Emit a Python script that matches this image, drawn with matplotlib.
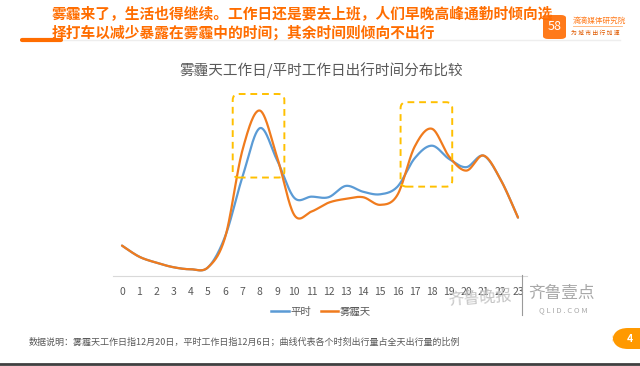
import matplotlib
matplotlib.use("Agg")
import matplotlib.pyplot as plt
import numpy as np
from matplotlib.patches import FancyBboxPatch
from matplotlib.lines import Line2D

plt.rcParams["font.family"] = ["Noto Sans CJK SC", "DejaVu Sans"]

# ── data: share of daily trips per hour (%) ───────────────────────────────────
hours = list(range(24))
normal = [1.67, 1.06, 0.73, 0.48, 0.37, 0.48, 2.20, 5.46, 8.12, 6.38, 4.30, 4.36,
          4.33, 4.95, 4.63, 4.49, 4.91, 6.47, 7.16, 6.43, 5.98, 6.61, 5.28, 3.21]
haze = [1.67, 1.06, 0.73, 0.48, 0.37, 0.48, 2.16, 6.93, 9.09, 6.56, 3.36, 3.54,
        4.03, 4.24, 4.33, 3.91, 4.46, 7.11, 8.09, 6.56, 5.79, 6.62, 5.28, 3.21]
series_names = ["平时", "雾霾天"]

headline = ["雾霾来了，生活也得继续。工作日还是要去上班，人们早晚高峰通勤时倾向选",
            "择打车以减少暴露在雾霾中的时间；其余时间则倾向不出行"]
chart_title = "雾霾天工作日/平时工作日出行时间分布比较"
footnote = "数据说明：雾霾天工作日指12月20日，平时工作日指12月6日；曲线代表各个时刻出行量占全天出行量的比例"

BLUE = "#5B9BD5"
ORANGE = "#F07B1D"
HEAD = "#FF6D00"
GOLD = "#FFC000"
GREY = "#595959"

W, H = 640, 366
fx = lambda px: px / W
fy = lambda py: 1 - py / H


def smooth(x, y, n=30):
    # Excel-like smoothed line: Bezier through points, Catmull-Rom handles
    x = np.asarray(x, float)
    y = np.asarray(y, float)
    px = np.concatenate([[x[0]], x, [x[-1]]])
    py = np.concatenate([[y[0]], y, [y[-1]]])
    t = np.linspace(0, 1, n)[:, None]
    xs, ys = [], []
    for i in range(1, len(x)):
        p0 = np.array([px[i], py[i]])
        p3 = np.array([px[i + 1], py[i + 1]])
        c1 = p0 + (np.array([px[i + 1], py[i + 1]]) - np.array([px[i - 1], py[i - 1]])) / 6
        c2 = p3 - (np.array([px[i + 2], py[i + 2]]) - p0) / 6
        b = ((1 - t) ** 3) * p0 + 3 * ((1 - t) ** 2) * t * c1 + 3 * (1 - t) * t ** 2 * c2 + t ** 3 * p3
        xs.append(b[:, 0])
        ys.append(b[:, 1])
    return np.concatenate(xs), np.concatenate(ys)


fig = plt.figure(figsize=(6.4, 3.66), dpi=100)
fig.patch.set_facecolor("white")

ax = fig.add_axes([fx(113.4), fy(276), fx(526.6) - fx(113.4), fy(94) - fy(276)])
ax.set_xlim(-0.5, 23.5)
ax.set_ylim(0, 10)

for vals, color in ((normal, BLUE), (haze, ORANGE)):
    sx, sy = smooth(hours, vals)
    ax.plot(sx, sy, color=color, lw=1.6, solid_capstyle="round", clip_on=False, zorder=3)

# dashed highlight boxes around the two peaks
for (x0, x1, y0, y1) in ((6.43, 9.43, 5.41, 10.0), (16.18, 19.18, 4.91, 9.55)):
    box = FancyBboxPatch((x0, y0), x1 - x0, y1 - y0,
                         boxstyle="round,pad=0,rounding_size=0.35", mutation_aspect=0.95,
                         fill=False, ec=GOLD, lw=1.4, ls=(0, (3.5, 2.5)),
                         clip_on=False, zorder=4)
    ax.add_patch(box)

for s in ("top", "right", "left"):
    ax.spines[s].set_visible(False)
ax.spines["bottom"].set_color("#D9D9D9")
ax.spines["bottom"].set_linewidth(0.8)
ax.set_yticks([])
ax.set_xticks(hours)
ax.set_xticklabels([str(h) for h in hours])
ax.tick_params(axis="x", length=0, pad=8, labelsize=7.5, labelcolor=GREY)
ax.set_facecolor("none")

# chart title
fig.text(fx(321), fy(70), chart_title, ha="center", va="center", fontsize=10.5, color=GREY)

# headline
fig.text(fx(52), fy(14), headline[0], ha="left", va="center", fontsize=10.6,
         fontweight="bold", color=HEAD)
fig.text(fx(52), fy(33), headline[1], ha="left", va="center", fontsize=10.6,
         fontweight="bold", color=HEAD)
fig.add_artist(Line2D([fx(61), fx(620)], [fy(40), fy(40)], color="#EEEEEE", lw=1))
fig.add_artist(Line2D([fx(22), fx(61)], [fy(40), fy(40)], color=HEAD, lw=3,
                      solid_capstyle="round"))

# logo
fig.add_artist(FancyBboxPatch((fx(543), fy(39)), fx(566) - fx(543), fy(15) - fy(39),
                              boxstyle="round,pad=0,rounding_size=0.008",
                              transform=fig.transFigure, fc="#FF7A1A", ec="none"))
fig.text(fx(554.5), fy(27), "58", ha="center", va="center", fontsize=9, color="white")
fig.text(fx(573), fy(21), "滴滴媒体研究院", ha="left", va="center", fontsize=5.5, color="#FF7A1A")
fig.add_artist(Line2D([fx(573), fx(622)], [fy(26), fy(26)], color="#FFB070", lw=0.6))
fig.text(fx(571), fy(33), "为 城 市 出 行 加 速", ha="left", va="center", fontsize=4.2, color="#E05A00")

# legend
handles = [Line2D([0], [0], color=BLUE, lw=1.8), Line2D([0], [0], color=ORANGE, lw=1.8)]
leg = fig.legend(handles, series_names, loc="center", bbox_to_anchor=(fx(321), fy(312)),
                 ncol=2, frameon=False, fontsize=7.5, handlelength=1.7,
                 handletextpad=0.15, columnspacing=0.9)
for t in leg.get_texts():
    t.set_color(GREY)

# watermark
fig.text(fx(480), fy(298), "齐鲁晚报", ha="center", va="center", fontsize=11.5,
         color="#C4C4C4", rotation=4)
fig.add_artist(Line2D([fx(522), fx(522)], [fy(275), fy(315)], color="#9A9A9A", lw=0.8))
fig.text(fx(562), fy(293), "齐鲁壹点", ha="center", va="center", fontsize=12, color="#A8A8A8")
fig.text(fx(563), fy(310), "Q L I D . C O M", ha="center", va="center", fontsize=5.5, color="#A8A8A8")

# footnote
fig.text(fx(29), fy(342), footnote, ha="left", va="center", fontsize=6.5, color=GREY)

# page badge
fig.add_artist(FancyBboxPatch((fx(612), fy(349)), fx(660) - fx(612), fy(328) - fy(349),
                              boxstyle="round,pad=0,rounding_size=0.025", mutation_aspect=1.7,
                              transform=fig.transFigure, fc="#FF9900", ec="none"))
fig.text(fx(630), fy(338.5), "4", ha="center", va="center", fontsize=7.5,
         fontweight="bold", color="white")

# bottom rule
fig.add_artist(Line2D([0, 1], [fy(364), fy(364)], color="#404040", lw=2))

fig.savefig("out.png", dpi=100, facecolor="white")
